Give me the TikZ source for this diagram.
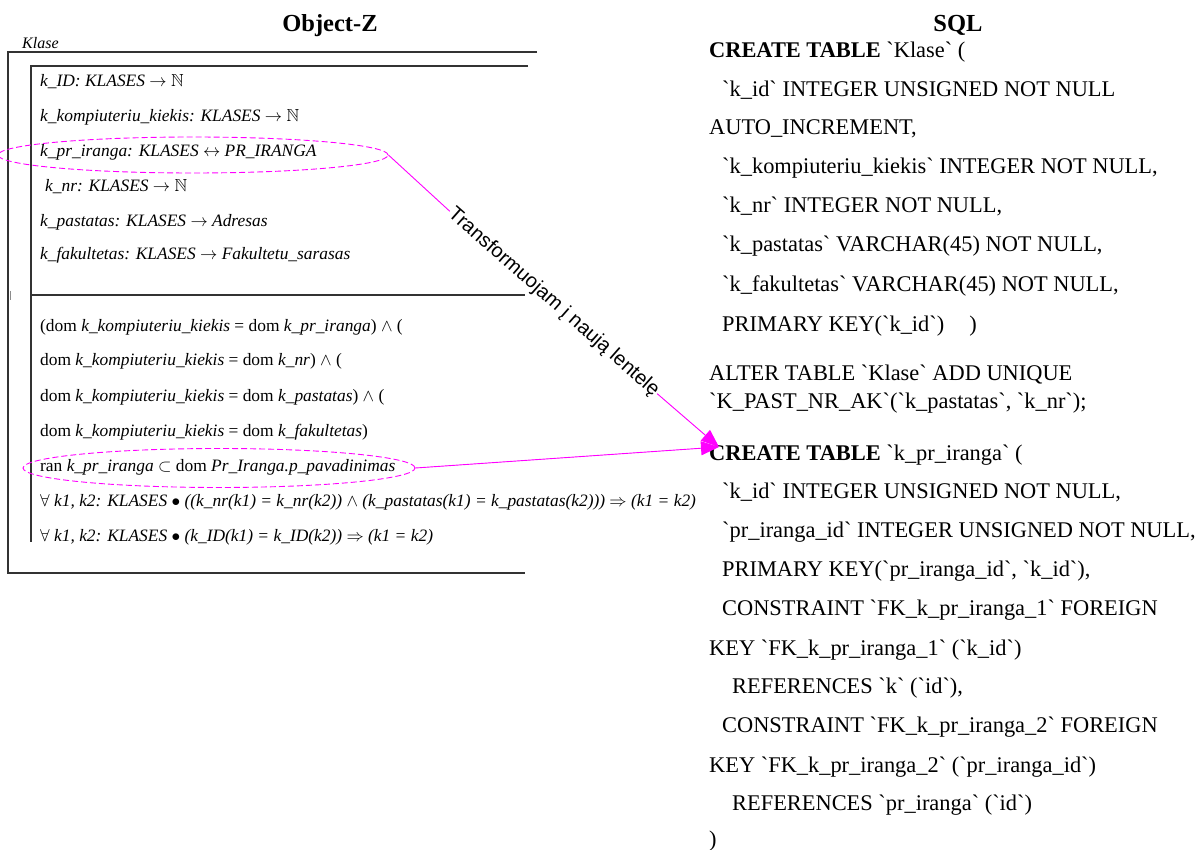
\documentclass[tikz,border=0pt]{standalone}
\usepackage{amssymb}
\usepackage{fontspec}
\setmainfont{Liberation Serif}[Ligatures=TeXOff]
\newfontfamily\labelfont{Liberation Sans}
\usetikzlibrary{shapes.geometric,arrows.meta}

\definecolor{linkpink}{RGB}{255,0,255}

\tikzset{
  sqlline/.style={anchor=base west, inner sep=0pt, font=\fontsize{22.4}{26}\selectfont},
  zline/.style={anchor=base west, inner sep=0pt, font=\fontsize{17.4}{20}\selectfont},
  heading/.style={anchor=base, inner sep=0pt, font=\fontsize{24.5}{28}\selectfont\bfseries},
  outerframe/.style={line width=1.8pt, draw=black!80},
  innerframe/.style={line width=1.3pt, draw=black!80},
  highlight/.style={ellipse, draw=linkpink, dash pattern=on 6pt off 3pt, line width=0.9pt, inner sep=0pt},
  link/.style={draw=linkpink, line width=0.9pt},
  linkarrow/.style={link, -{Triangle[length=18pt,width=14pt]}, fill=linkpink}
}

\begin{document}
\begin{tikzpicture}[x=1pt,y=-1pt]
\useasboundingbox (0,0) rectangle (1197,850);

% ---------- headings ----------
\node[heading] (hz) at (330,32) {Object-Z};
\node[heading] (hs) at (958,32) {SQL};

% ---------- Object-Z class schema frame ----------
\draw[outerframe] (537,52) -- (8,52) -- (8,573) -- (525,573);
\draw[innerframe] (528,66) -- (31,66) -- (31,542);
\draw[innerframe] (31,295) -- (525,295);
\draw[line width=1pt, black!45] (10,291) -- (10,300);
\node[anchor=base west, inner sep=0pt, font=\fontsize{16}{18}\selectfont\itshape] (klase) at (22,49) {Klase};

% state declarations
\node[zline] (z1) at (40,87)  {\textit{k\_ID: KLASES} $\rightarrow$ $\mathbb{N}$};
\node[zline] (z2) at (40,122) {\textit{k\_kompiuteriu\_kiekis: KLASES} $\rightarrow$ $\mathbb{N}$};
\node[zline] (z3) at (40,157) {\textit{k\_pr\_iranga: KLASES} $\leftrightarrow$ \textit{PR\_IRANGA}};
\node[zline] (z4) at (45,192) {\textit{k\_nr: KLASES} $\rightarrow$ $\mathbb{N}$};
\node[zline] (z5) at (40,227) {\textit{k\_pastatas: KLASES} $\rightarrow$ \textit{Adresas}};
\node[zline] (z6) at (40,260) {\textit{k\_fakultetas: KLASES} $\rightarrow$ \textit{Fakultetu\_sarasas}};

% state invariants
\node[zline] (p1) at (40,332) {(dom \textit{k\_kompiuteriu\_kiekis} = dom \textit{k\_pr\_iranga}) $\wedge$ (};
\node[zline] (p2) at (40,366) {dom \textit{k\_kompiuteriu\_kiekis} = dom \textit{k\_nr}) $\wedge$ (};
\node[zline] (p3) at (40,401) {dom \textit{k\_kompiuteriu\_kiekis} = dom \textit{k\_pastatas}) $\wedge$ (};
\node[zline] (p4) at (40,436) {dom \textit{k\_kompiuteriu\_kiekis} = dom \textit{k\_fakultetas})};
\node[zline] (p5) at (40,471) {ran \textit{k\_pr\_iranga} $\subset$ dom \textit{Pr\_Iranga.p\_pavadinimas}};
\node[zline] (p6) at (40,506) {$\forall$ \textit{k1, k2: KLASES} $\bullet$ \textit{((k\_nr(k1) = k\_nr(k2))} $\wedge$ \textit{(k\_pastatas(k1) = k\_pastatas(k2)))} $\Rightarrow$ \textit{(k1 = k2)}};
\node[zline] (p7) at (40,541) {$\forall$ \textit{k1, k2: KLASES} $\bullet$ \textit{(k\_ID(k1) = k\_ID(k2))} $\Rightarrow$ \textit{(k1 = k2)}};

% highlighted items
\node[highlight, minimum width=390pt, minimum height=36pt] (e1) at (193,155) {};
\node[highlight, minimum width=392pt, minimum height=39pt] (e2) at (219,468) {};

% ---------- SQL: table Klase ----------
\node[sqlline] (s1)  at (709,58)  {\textbf{CREATE TABLE} `Klase` (};
\node[sqlline] (s2)  at (722,97)  {`k\_id` INTEGER UNSIGNED NOT NULL};
\node[sqlline] (s3)  at (709,135) {AUTO\_INCREMENT,};
\node[sqlline] (s4)  at (722,174) {`k\_kompiuteriu\_kiekis` INTEGER NOT NULL,};
\node[sqlline] (s5)  at (722,213) {`k\_nr` INTEGER NOT NULL,};
\node[sqlline] (s6)  at (722,252) {`k\_pastatas` VARCHAR(45) NOT NULL,};
\node[sqlline] (s7)  at (722,292) {`k\_fakultetas` VARCHAR(45) NOT NULL,};
\node[sqlline] (s8)  at (722,332) {PRIMARY KEY(`k\_id`)\hspace{25pt})};
\node[sqlline] (s9)  at (709,381) {ALTER TABLE `Klase` ADD UNIQUE};
\node[sqlline] (s10) at (709,408) {`K\_PAST\_NR\_AK`(`k\_pastatas`, `k\_nr`);};

% ---------- SQL: table k_pr_iranga ----------
\node[sqlline] (t1)  at (709,460) {\textbf{CREATE TABLE} `k\_pr\_iranga` (};
\node[sqlline] (t2)  at (722,498) {`k\_id` INTEGER UNSIGNED NOT NULL,};
\node[sqlline] (t3)  at (722,537) {`pr\_iranga\_id` INTEGER UNSIGNED NOT NULL,};
\node[sqlline] (t4)  at (722,576) {PRIMARY KEY(`pr\_iranga\_id`, `k\_id`),};
\node[sqlline] (t5)  at (722,615) {CONSTRAINT `FK\_k\_pr\_iranga\_1` FOREIGN};
\node[sqlline] (t6)  at (709,655) {KEY `FK\_k\_pr\_iranga\_1` (`k\_id`)};
\node[sqlline] (t7)  at (732,693) {REFERENCES `k` (`id`),};
\node[sqlline] (t8)  at (722,732) {CONSTRAINT `FK\_k\_pr\_iranga\_2` FOREIGN};
\node[sqlline] (t9)  at (709,772) {KEY `FK\_k\_pr\_iranga\_2` (`pr\_iranga\_id`)};
\node[sqlline] (t10) at (732,810) {REFERENCES `pr\_iranga` (`id`)};
\node[sqlline] (t11) at (709,846) {)};

% ---------- transformation links ----------
\coordinate (tip) at (719,447);
\node[font=\labelfont\fontsize{20}{24}\selectfont, rotate=-41.33, inner sep=1pt] (tr) at (553.5,302.5) {Transformuojam į naują lentelę};
\draw[link] (e1.east) -- (tr.west);
\draw[linkarrow] (tr.east) -- (tip);
\draw[linkarrow] (e2.east) -- (tip);
\end{tikzpicture}
\end{document}
